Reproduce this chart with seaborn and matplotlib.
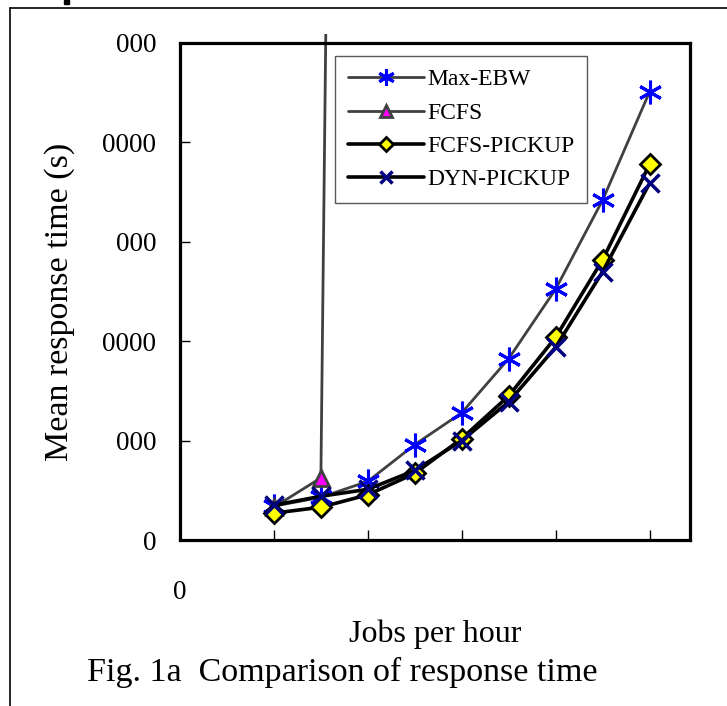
import matplotlib
matplotlib.use("Agg")
import matplotlib.pyplot as plt
import seaborn as sns
from matplotlib.lines import Line2D
from matplotlib.patches import Rectangle

# data (x in tick units, y in seconds)
jobs = [1, 1.5, 2, 2.5, 3, 3.5, 4, 4.5, 5]
max_ebw = [3400, 4300, 5900, 9600, 12800, 18250, 25250, 34200, 45100]
fcfs = [3300, 6250, 435000]
fcfs_pickup = [2700, 3300, 4550, 6700, 10200, 14500, 20400, 28200, 37800]
dyn_pickup = [3500, 4400, 5100, 7000, 10000, 13900, 19400, 27000, 35900]

y_ticks = [0, 10000, 20000, 30000, 40000, 50000]
y_tick_labels = ["0", "000", "0000", "000", "0000", "000"]
x_ticks = [0, 1, 2, 3, 4, 5]
x_tick_labels = ["0", "", "", "", "", ""]

sns.set_theme(style="white")
plt.rcParams["font.family"] = ["Liberation Serif", "DejaVu Serif"]

fig = plt.figure(figsize=(7.27, 7.06), dpi=100)
ax = fig.add_axes([180 / 727, 1 - 540 / 706, 510 / 727, 497 / 706])

gray = "#404040"
sns.lineplot(x=jobs, y=max_ebw, ax=ax, color=gray, linewidth=2,
             marker=(6, 2, 0), markersize=17, markeredgecolor="#0000ff",
             markeredgewidth=2.2, label="Max-EBW")
fcfs_line = sns.lineplot(x=jobs[:3], y=fcfs, ax=ax, color=gray, linewidth=2,
                         marker="^", markersize=12, markerfacecolor="#ff00ff",
                         markeredgecolor=gray, markeredgewidth=2,
                         label="FCFS").lines[-1]
sns.lineplot(x=jobs, y=fcfs_pickup, ax=ax, color="black", linewidth=2.6,
             marker="D", markersize=10, markerfacecolor="#ffff00",
             markeredgecolor="black", markeredgewidth=2, label="FCFS-PICKUP")
sns.lineplot(x=jobs, y=dyn_pickup, ax=ax, color="black", linewidth=2.6,
             marker="x", markersize=13, markeredgecolor="#000080",
             markeredgewidth=2.5, label="DYN-PICKUP")

# the FCFS line runs a little past the top of the frame
fcfs_line.set_clip_path(Rectangle((0, 0), 1, 1 + 9 / 497,
                                  transform=ax.transAxes))

ax.set_xlim(0, 5.43)
ax.set_ylim(0, 50000)
ax.set_xticks(x_ticks)
ax.set_xticklabels(x_tick_labels)
ax.set_yticks(y_ticks)
ax.set_yticklabels(y_tick_labels)
ax.tick_params(axis="both", direction="in", length=7, width=1, color="black",
               labelsize=19.5, labelcolor="black")
ax.tick_params(axis="y", pad=17)
ax.tick_params(axis="x", pad=29, length=7)
ax.tick_params(left=True, bottom=True)
for side in ["left", "right", "top", "bottom"]:
    ax.spines[side].set_linewidth(2.3)
    ax.spines[side].set_color("black")

ax.set_ylabel("Mean response time (s)", fontsize=24.5, color="black")
ax.yaxis.set_label_coords(-0.205, 0.48)
ax.set_xlabel("Jobs per hour", fontsize=23, color="black", labelpad=10)

leg = ax.legend(loc="upper left", bbox_to_anchor=(0.304, 0.974),
                borderaxespad=0, fontsize=17, frameon=True, fancybox=False,
                edgecolor="#303030", handlelength=3.2, handletextpad=0.15,
                labelspacing=0.5, borderpad=0.55, markerscale=0.7)
leg.get_frame().set_linewidth(1)
for t in leg.get_texts():
    t.set_color("black")

fig.text(87 / 727, 1 - 672 / 706, "Fig. 1a  Comparison of response time",
         fontsize=24.5, va="center", ha="left", color="black")

# page frame around the figure
fig.add_artist(Line2D([10 / 727, 10 / 727], [0, 1 - 8 / 706],
                      transform=fig.transFigure, color="black", linewidth=1.2))
fig.add_artist(Line2D([10 / 727, 1], [1 - 8 / 706, 1 - 8 / 706],
                      transform=fig.transFigure, color="black", linewidth=1.2))
fig.add_artist(Rectangle((64 / 727, 1 - 4 / 706), 5 / 727, 4 / 706,
                         transform=fig.transFigure, color="black"))

fig.savefig("out.png", dpi=100, facecolor="white")
